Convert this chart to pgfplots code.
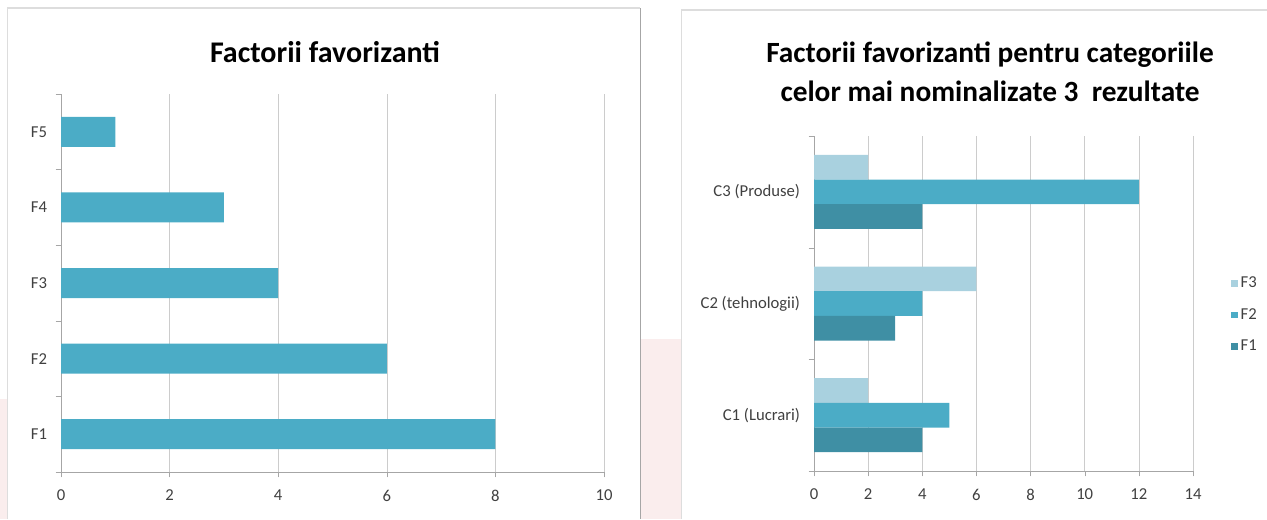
\documentclass[border=0pt]{standalone}
\usepackage{pgfplots}
\pgfplotsset{compat=1.18}
\usepackage{fontspec}
\setmainfont{Carlito}

\definecolor{barblue}{HTML}{4BACC6}
\definecolor{lightteal}{HTML}{A9D1DF}
\definecolor{darkteal}{HTML}{3F8FA4}
\definecolor{gridgray}{HTML}{CCCCCC}
\definecolor{axisgray}{HTML}{A6A6A6}
\definecolor{labelgray}{HTML}{404040}
\definecolor{framegray}{HTML}{DDDDDD}
\definecolor{blush}{HTML}{FAEDED}

\pgfplotsset{
  hbars/.style={
    xbar, scale only axis,
    anchor=south west,
    axis x line*=bottom, axis y line*=left,
    axis line style={axisgray,-},
    tick style={axisgray},
    tick align=outside,
    major tick length=4pt,
    xmajorgrids, grid style={gridgray},
    xmin=0,
    extra y tick style={grid=none, tick style={draw=none}},
    tick label style={font=\fontsize{12.5}{14}\selectfont, color=labelgray},
    yticklabel style={xshift=-3pt},
    xticklabel style={yshift=-6pt},
    /pgf/number format/assume math mode=true,
  },
}

\begin{document}
\begin{tikzpicture}
\begin{scope}[x=0.75pt,y=0.75pt]
\path[use as bounding box] (0,0) rectangle (1267,519);
% faint backdrop and panel frames
\fill[blush] (0,0) rectangle (7,120);
\fill[blush] (641,0) rectangle (681,180);
\draw[framegray, line width=1.2pt] (7.5,0) -- (7.5,511) -- (640,511);
\draw[gray!70, line width=0.8pt] (640.5,0) -- (640.5,511);
\draw[framegray, line width=1.2pt] (681.5,0) -- (681.5,509) -- (1267,509);
% titles
\node[font=\fontsize{22.5}{26}\selectfont\bfseries, anchor=base] at (325,456) {Factorii favorizanti};
\node[font=\fontsize{22}{26}\selectfont\bfseries, anchor=base] at (990,456) {Factorii favorizanti pentru categoriile};
\node[font=\fontsize{22}{26}\selectfont\bfseries, anchor=base] at (990,417) {celor mai nominalizate 3\ \ rezultate};
\end{scope}

% left chart
\begin{axis}[hbars,
  at={(45.75pt,35.25pt)}, width=407.25pt, height=283.5pt,
  xmax=10, xtick={0,2,...,10},
  ymin=0.5, ymax=5.5,
  ytick={0.5,1.5,...,5.5},
  yticklabels={,,,,,},
  extra y ticks={1,2,3,4,5},
  extra y tick labels={F1,F2,F3,F4,F5},
  bar width=22.5pt,
]
\addplot[fill=barblue, draw=none] coordinates {(8,1) (6,2) (4,3) (3,4) (1,5)};
\end{axis}

% right chart
\begin{axis}[hbars,
  at={(610.5pt,36pt)}, width=284.25pt, height=251.25pt,
  xmax=14, xtick={0,2,...,14},
  ymin=0.5, ymax=3.5,
  ytick={0.5,1.5,2.5,3.5},
  yticklabels={,,,},
  extra y ticks={1,2,3},
  extra y tick labels={C1 (Lucrari),C2 (tehnologii),C3 (Produse)},
  bar width=18.5pt,
  legend style={at={(1.09,0.466)}, anchor=west, draw=none, fill=none,
    font=\fontsize{12.5}{14}\selectfont, text=labelgray, row sep=10pt},
  legend cell align=left,
  legend image code/.code={\fill[#1] (0pt,-2.5pt) rectangle (5pt,2.5pt);},
]
\addplot[fill=lightteal, draw=none, bar shift=18.5pt] coordinates {(2,1) (6,2) (2,3)};
\addplot[fill=barblue, draw=none, bar shift=0pt] coordinates {(5,1) (4,2) (12,3)};
\addplot[fill=darkteal, draw=none, bar shift=-18.5pt] coordinates {(4,1) (3,2) (4,3)};
\legend{F3,F2,F1}
\end{axis}
\end{tikzpicture}
\end{document}
